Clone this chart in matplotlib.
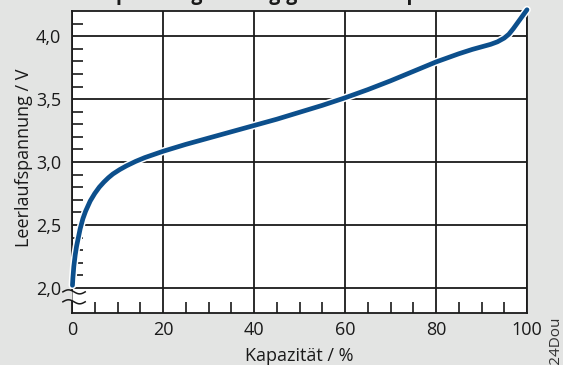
import numpy as np
import matplotlib
matplotlib.use("Agg")
import matplotlib.pyplot as plt
import matplotlib.patheffects as pe
from matplotlib.ticker import MultipleLocator, FixedLocator

plt.rcParams['font.family'] = ['Open Sans', 'DejaVu Sans']

# data
capacity = [0.1, 0.2, 0.4, 0.7, 1.0, 1.4, 1.8, 2.4, 3.0, 4.0, 5.0, 6.0, 7.0, 8.0,
            9.0, 10.5, 12, 14, 16, 18, 20, 25, 30, 35, 40, 45, 50, 55, 60, 65,
            70, 75, 80, 85, 88, 90, 92, 93.5, 95, 96, 97, 98, 99, 100]
voltage = [2.02, 2.08, 2.17, 2.26, 2.33, 2.40, 2.47, 2.55, 2.61, 2.69, 2.75, 2.80,
           2.84, 2.875, 2.905, 2.94, 2.97, 3.005, 3.035, 3.06, 3.085, 3.14, 3.19,
           3.24, 3.29, 3.34, 3.395, 3.45, 3.51, 3.575, 3.645, 3.72, 3.795, 3.86,
           3.895, 3.915, 3.935, 3.955, 3.985, 4.015, 4.06, 4.11, 4.16, 4.21]

x_major = [0, 20, 40, 60, 80, 100]
y_major = [2.0, 2.5, 3.0, 3.5, 4.0]
y_labels = ["2,0", "2,5", "3,0", "3,5", "4,0"]
y_minor = [2.1, 2.2, 2.3, 2.4, 2.6, 2.7, 2.8, 2.9, 3.1, 3.2, 3.3, 3.4,
           3.6, 3.7, 3.8, 3.9, 4.1]

title = "Leerlaufspannung abhängig von der Kapazität"
xlabel = "Kapazität / %"
ylabel = "Leerlaufspannung / V"
credit = "c't 24Dou"

bg = "#e3e4e3"
ink = "#1a1a1a"
blue = "#0c4f8c"

W, H = 563, 365
fig = plt.figure(figsize=(W / 100, H / 100), dpi=100)
fig.patch.set_facecolor(bg)
ax = fig.add_axes([72 / W, 1 - 313 / H, 455 / W, 302 / H])
ax.set_facecolor("white")

ax.set_xlim(0, 100)
ax.set_ylim(1.8, 4.2)

ax.set_xticks(x_major)
ax.set_yticks(y_major)
ax.set_yticklabels(y_labels)
ax.xaxis.set_minor_locator(MultipleLocator(5))
ax.yaxis.set_minor_locator(FixedLocator(y_minor))

ax.grid(True, which="major", color=ink, lw=1.3)
ax.set_axisbelow(True)
for s in ax.spines.values():
    s.set_color(ink)
    s.set_linewidth(1.3)

ax.tick_params(which="major", length=0, labelsize=13, colors=ink)
ax.tick_params(axis="y", which="major", pad=8)
ax.tick_params(axis="x", which="major", pad=6)
ax.tick_params(which="minor", direction="in", length=8, width=1.2, color=ink)

# axis break symbol between 2,0 and the bottom
xs = np.linspace(-2.0, 2.9, 60)
w1 = 1.968 + 0.016 * np.sin(2 * np.pi * (xs + 2.0) / 4.9)
w2 = 1.889 + 0.016 * np.sin(2 * np.pi * (xs + 2.0) / 4.9)
left = xs <= 0
ax.fill_between(xs[left], w1[left], w2[left], color=bg, lw=0, clip_on=False, zorder=3)
ax.fill_between(xs[~left], w1[~left], w2[~left], color="white", lw=0, clip_on=False, zorder=3)
ax.plot(xs, w1, color=ink, lw=1.1, clip_on=False, zorder=4)
ax.plot(xs, w2, color=ink, lw=1.1, clip_on=False, zorder=4)

ax.plot(capacity, voltage, color=blue, lw=3.4, solid_capstyle="round",
        solid_joinstyle="round", clip_on=False, zorder=6,
        path_effects=[pe.Stroke(linewidth=5.6, foreground="white"), pe.Normal()])

fig.text(299.5 / W, 4 / H, xlabel, ha="center", va="baseline", fontsize=13, color=ink)
fig.text(29 / W, 1 - 158 / H, ylabel, rotation=90, rotation_mode="anchor",
         ha="center", va="baseline", fontsize=13, color=ink)

# title is cut off by the top edge in the reference, only descenders show
fig.text(250 / W, 1.0, title, ha="center", va="baseline",
         fontsize=14, fontweight="bold", color=ink)
fig.text(557 / W, 1 - 318 / H, credit, rotation=90, ha="center", va="top",
         fontsize=11, color="#333333")

fig.savefig("out.png", dpi=100, facecolor=bg)
